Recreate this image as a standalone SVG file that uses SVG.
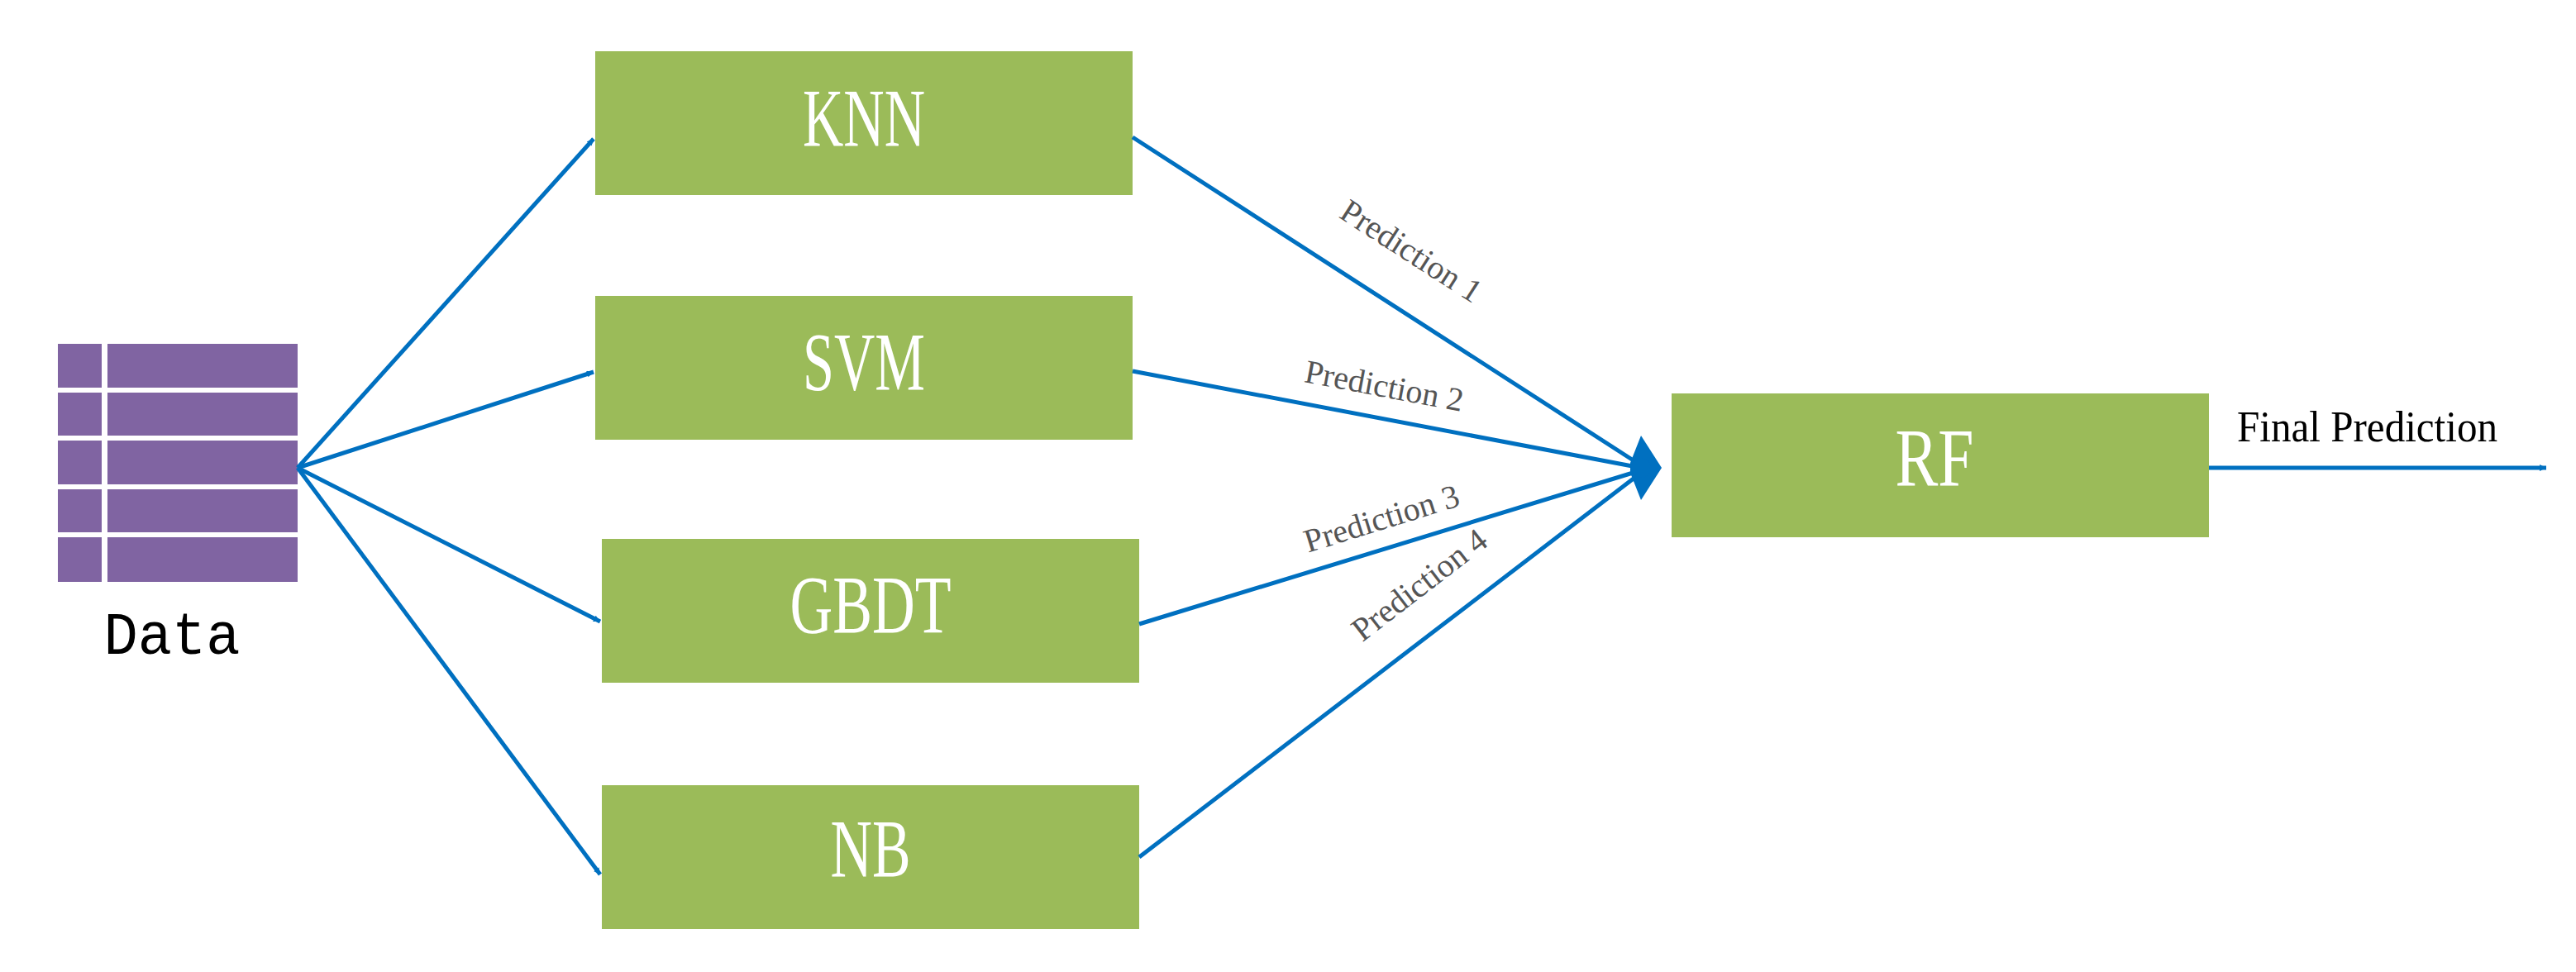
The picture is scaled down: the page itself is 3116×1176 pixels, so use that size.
<svg xmlns="http://www.w3.org/2000/svg" width="3116" height="1176" viewBox="0 0 3116 1176">
<style>
.box{fill:#9BBB59}
.bt{font-family:"Liberation Serif",serif;font-size:100px;fill:#fff;text-anchor:middle}
.cell{fill:#8064A2}
.ln{stroke:#0070C0;stroke-width:5;fill:none}
.ah{fill:#0070C0}
.pl{font-family:"Liberation Serif",serif;font-size:40px;fill:#555;text-anchor:middle}
</style>
<defs>
<marker id="arr" viewBox="0 0 10 10" refX="10" refY="5" markerWidth="8" markerHeight="8" markerUnits="userSpaceOnUse" orient="auto"><path d="M0,0 L10,5 L0,10z" fill="#0070C0"/></marker>
</defs>
<rect width="3116" height="1176" fill="#fff"/>
<g id="data">
<rect class="cell" x="70" y="416" width="53" height="53"/><rect class="cell" x="130" y="416" width="230" height="53"/>
<rect class="cell" x="70" y="475" width="53" height="52"/><rect class="cell" x="130" y="475" width="230" height="52"/>
<rect class="cell" x="70" y="533" width="53" height="53"/><rect class="cell" x="130" y="533" width="230" height="53"/>
<rect class="cell" x="70" y="592" width="53" height="52"/><rect class="cell" x="130" y="592" width="230" height="52"/>
<rect class="cell" x="70" y="650" width="53" height="54"/><rect class="cell" x="130" y="650" width="230" height="54"/>
<text x="208" y="791" font-family="Liberation Mono,monospace" font-size="72" text-anchor="middle" textLength="165" lengthAdjust="spacingAndGlyphs">Data</text>
</g>
<g id="knn"><rect class="box" x="720" y="62" width="650" height="174"/><text class="bt" x="1045" y="176" textLength="148" lengthAdjust="spacingAndGlyphs">KNN</text></g>
<g id="svm"><rect class="box" x="720" y="358" width="650" height="174"/><text class="bt" x="1045" y="471" textLength="148" lengthAdjust="spacingAndGlyphs">SVM</text></g>
<g id="gbdt"><rect class="box" x="728" y="652" width="650" height="174"/><text class="bt" x="1053" y="765" textLength="195" lengthAdjust="spacingAndGlyphs">GBDT</text></g>
<g id="nb"><rect class="box" x="728" y="950" width="650" height="174"/><text class="bt" x="1053" y="1060" textLength="97" lengthAdjust="spacingAndGlyphs">NB</text></g>
<g id="rf"><rect class="box" x="2022" y="476" width="650" height="174"/><text class="bt" x="2340" y="587" textLength="95" lengthAdjust="spacingAndGlyphs">RF</text></g>
<g id="connectors">
<line class="ln" x1="360" y1="566" x2="718" y2="168" marker-end="url(#arr)"/>
<line class="ln" x1="360" y1="566" x2="718" y2="450" marker-end="url(#arr)"/>
<line class="ln" x1="360" y1="566" x2="726" y2="752" marker-end="url(#arr)"/>
<line class="ln" x1="360" y1="566" x2="726" y2="1058" marker-end="url(#arr)"/>
<line class="ln" x1="1370" y1="166" x2="1985" y2="563"/>
<line class="ln" x1="1370" y1="449" x2="1985" y2="566"/>
<line class="ln" x1="1378" y1="755" x2="1985" y2="569"/>
<line class="ln" x1="1378" y1="1037" x2="1985" y2="572"/>
<path class="ah" d="M2010,566 L1985,527 L1972,560 L1972,572 L1985,605 Z"/>
<circle class="ah" cx="1985" cy="566" r="12"/>
<line class="ln" x1="2672" y1="566" x2="3080" y2="566" marker-end="url(#arr)"/>
<text class="pl" transform="translate(1700,315) rotate(32.8)">Prediction 1</text>
<text class="pl" transform="translate(1672,480) rotate(10.7)">Prediction 2</text>
<text class="pl" transform="translate(1675,640) rotate(-17.2)">Prediction 3</text>
<text class="pl" transform="translate(1725,718) rotate(-37.6)">Prediction 4</text>
<text x="2706" y="534" font-family="Liberation Serif,serif" font-size="52" textLength="315" lengthAdjust="spacingAndGlyphs">Final Prediction</text>
</g>
</svg>
